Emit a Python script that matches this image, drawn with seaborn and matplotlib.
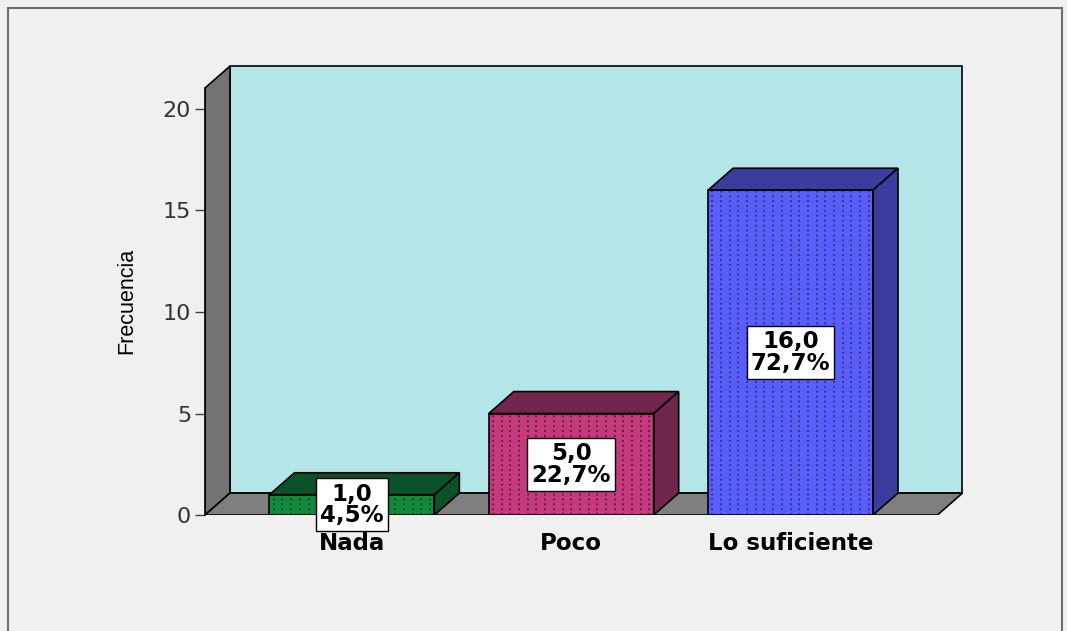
import matplotlib
matplotlib.use('Agg')
import matplotlib.pyplot as plt
import seaborn as sns
import numpy as np
from matplotlib.patches import Polygon, Rectangle

categories = ['Nada', 'Poco', 'Lo suficiente']
counts = [1.0, 5.0, 16.0]
percents = [4.5, 22.7, 72.7]
yticks = [0, 5, 10, 15, 20]

front_colors = ['#12893F', '#C43A7C', '#5A5EF8']
shade_colors = ['#0B5129', '#72264E', '#3A3C9E']
dot_colors = ['#0A3A1E', '#4A1433', '#24267A']

# fake 3d box (SPSS style): floor/wall extents and depth offset
X0, X1 = -0.67, 2.67
YTOP = 21.03
DX, DY = 0.114, 1.08

sns.set_theme(style='white')
plt.rcParams['font.family'] = ['DejaVu Sans']

fig = plt.figure(figsize=(10.67, 6.31), dpi=100, facecolor='#F0F0F0')
ax = fig.add_axes([0.1921, 0.1838, 0.7132, 0.7143])
ax.set_facecolor('none')

sns.barplot(x=categories, y=counts, hue=categories, palette=front_colors, saturation=1,
            width=0.752, ax=ax, legend=False, zorder=2, linewidth=0)
bars = list(ax.patches)

ax.set_xlim(X0, 2.80)
ax.set_ylim(0, 22.2)

# back wall, left wall, floor
ax.add_patch(Polygon([(X0 + DX, DY), (X1 + DX, DY), (X1 + DX, YTOP + DY), (X0 + DX, YTOP + DY)],
                     fc='#B4E6E8', ec='black', lw=1.2, zorder=0.5))
ax.add_patch(Polygon([(X0, 0), (X0, YTOP), (X0 + DX, YTOP + DY), (X0 + DX, DY)],
                     fc='#737373', ec='black', lw=1.2, zorder=0.6))
ax.add_patch(Polygon([(X0, 0), (X1, 0), (X1 + DX, DY), (X0 + DX, DY)],
                     fc='#7F7F7F', ec='black', lw=1.2, zorder=0.6))

for bar, shade, dots, n, p in zip(bars, shade_colors, dot_colors, counts, percents):
    x, w, h = bar.get_x(), bar.get_width(), bar.get_height()
    # dotted texture on the front face
    step = w / 19
    ax.vlines(np.arange(x + step / 2, x + w, step), 0, h, colors=dots,
              linestyles=(0, (1.2, 2)), lw=1.1, zorder=2.1)
    ax.add_patch(Polygon([(x, h), (x + w, h), (x + w + DX, h + DY), (x + DX, h + DY)],
                         fc=shade, ec='black', lw=1.2, zorder=2))
    ax.add_patch(Polygon([(x + w, 0), (x + w + DX, DY), (x + w + DX, h + DY), (x + w, h)],
                         fc=shade, ec='black', lw=1.2, zorder=2))
    ax.add_patch(Rectangle((x, 0), w, h, fill=False, ec='black', lw=1.2, zorder=2.2))
    txt = f"{n:.1f}\n{p:.1f}%".replace('.', ',')
    ax.text(x + w / 2, h / 2, txt, ha='center', va='center', fontsize=16.5,
            fontweight='bold', linespacing=0.92, color='black', zorder=3,
            bbox=dict(boxstyle='square,pad=0.18', fc='white', ec='black', lw=1))

for s in ['top', 'right', 'bottom']:
    ax.spines[s].set_visible(False)
ax.spines['left'].set_bounds(0, YTOP)
ax.spines['left'].set_color('black')
ax.spines['left'].set_linewidth(1.2)
ax.spines['left'].set_zorder(1)

ax.set_yticks(yticks)
ax.tick_params(axis='y', left=True, length=7, width=1, color='#404040',
               labelsize=16, labelcolor='#333333', pad=3)
ax.tick_params(axis='x', bottom=False, length=0, pad=12, labelsize=16.5, labelcolor='black')
for lab in ax.get_xticklabels():
    lab.set_fontweight('bold')

ax.set_xlabel('')
ax.set_ylabel('Frecuencia', fontsize=15.5, family=['Liberation Sans', 'DejaVu Sans'], color='black')
ax.yaxis.set_label_coords(-0.98, 10.54, transform=ax.transData)

# outer frame of the output viewer
fig.add_artist(Rectangle((8 / 1067, -0.05), (1062 - 8) / 1067, 1.05 - 8 / 631,
                         transform=fig.transFigure, fill=False, ec='#6E6E6E', lw=1.5))

fig.savefig('out.png', dpi=100, facecolor=fig.get_facecolor())
